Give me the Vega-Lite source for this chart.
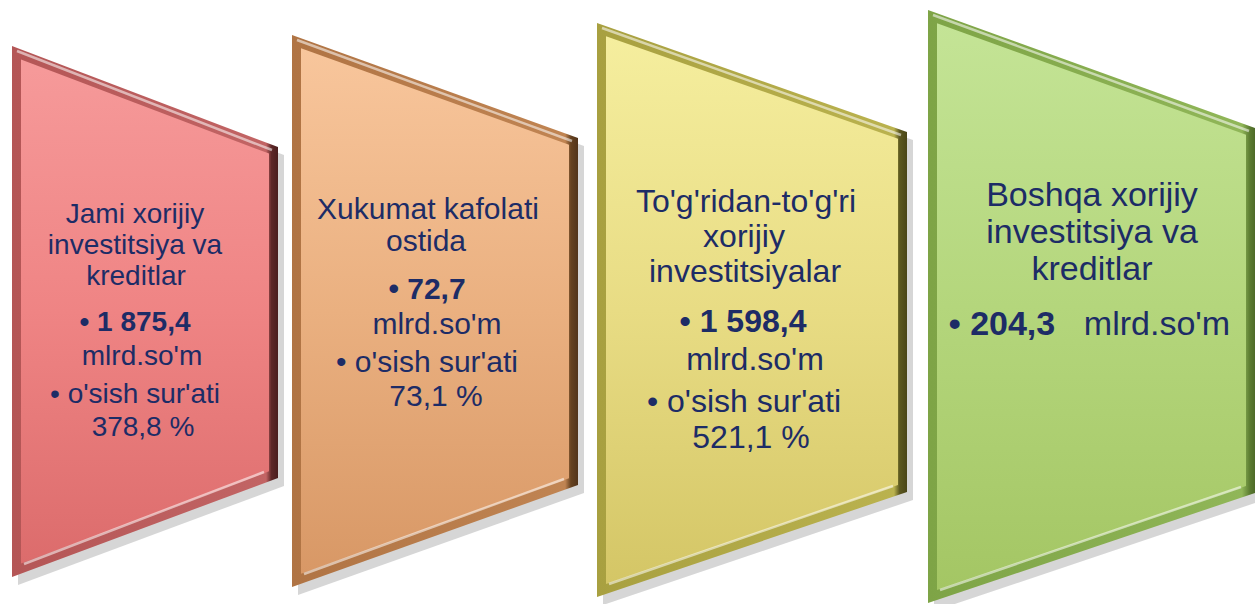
{
  "$schema": "https://vega.github.io/schema/vega-lite/v6.json",
  "width": 1255,
  "height": 604,
  "autosize": {"type": "fit", "contains": "padding"},
  "padding": 0,
  "background": "white",
  "config": {"view": {"stroke": null}},
  "datasets": {
    "outer": [
      {"p": 1, "x": 12, "t": 46, "b": 577}, {"p": 1, "x": 278, "t": 147, "b": 478},
      {"p": 2, "x": 292, "t": 35, "b": 587}, {"p": 2, "x": 578, "t": 138, "b": 485},
      {"p": 3, "x": 597, "t": 23, "b": 597}, {"p": 3, "x": 907, "t": 132, "b": 492},
      {"p": 4, "x": 928, "t": 10, "b": 603}, {"p": 4, "x": 1255, "t": 128, "b": 493}
    ],
    "inner": [
      {"p": 1, "x": 21, "t": 59.5, "b": 563.6}, {"p": 1, "x": 269, "t": 153.6, "b": 471.3},
      {"p": 2, "x": 301, "t": 48.2, "b": 573.8}, {"p": 2, "x": 569, "t": 144.8, "b": 478.2},
      {"p": 3, "x": 606, "t": 36.2, "b": 584}, {"p": 3, "x": 898, "t": 138.8, "b": 485},
      {"p": 4, "x": 937, "t": 23.2, "b": 590}, {"p": 4, "x": 1246, "t": 134.8, "b": 486}
    ],
    "hl": [
      {"s": "1t", "x": 17, "y": 51}, {"s": "1t", "x": 272, "y": 150},
      {"s": "1b", "x": 24, "y": 564}, {"s": "1b", "x": 264, "y": 472},
      {"s": "2t", "x": 297, "y": 40}, {"s": "2t", "x": 572, "y": 141},
      {"s": "2b", "x": 304, "y": 574}, {"s": "2b", "x": 564, "y": 479},
      {"s": "3t", "x": 602, "y": 28}, {"s": "3t", "x": 901, "y": 135},
      {"s": "3b", "x": 609, "y": 584}, {"s": "3b", "x": 893, "y": 486},
      {"s": "4t", "x": 933, "y": 15}, {"s": "4t", "x": 1249, "y": 131},
      {"s": "4b", "x": 940, "y": 590}, {"s": "4b", "x": 1241, "y": 487}
    ],
    "txt": [
      {"p": "1", "t": "Jami xorijiy", "x": 135, "y": 215, "bold": 0},
      {"p": "1", "t": "investitsiya va", "x": 135, "y": 246, "bold": 0},
      {"p": "1", "t": "kreditlar", "x": 136, "y": 277, "bold": 0},
      {"p": "1", "t": "• 1 875,4", "x": 135, "y": 323, "bold": 1},
      {"p": "1", "t": "mlrd.so'm", "x": 142, "y": 357, "bold": 0},
      {"p": "1", "t": "• o'sish sur'ati", "x": 135, "y": 395, "bold": 0},
      {"p": "1", "t": "378,8 %", "x": 143, "y": 428, "bold": 0},
      {"p": "2", "t": "Xukumat kafolati", "x": 428, "y": 210, "bold": 0},
      {"p": "2", "t": "ostida", "x": 426, "y": 242, "bold": 0},
      {"p": "2", "t": "• 72,7", "x": 427, "y": 290, "bold": 1},
      {"p": "2", "t": "mlrd.so'm", "x": 437, "y": 325, "bold": 0},
      {"p": "2", "t": "• o'sish sur'ati", "x": 427, "y": 363, "bold": 0},
      {"p": "2", "t": "73,1 %", "x": 436, "y": 397, "bold": 0},
      {"p": "3", "t": "To'g'ridan-to'g'ri", "x": 746, "y": 202, "bold": 0},
      {"p": "3", "t": "xorijiy", "x": 744, "y": 237, "bold": 0},
      {"p": "3", "t": "investitsiyalar", "x": 745, "y": 272, "bold": 0},
      {"p": "3", "t": "• 1 598,4", "x": 743, "y": 322, "bold": 1},
      {"p": "3", "t": "mlrd.so'm", "x": 755, "y": 360, "bold": 0},
      {"p": "3", "t": "• o'sish sur'ati", "x": 744, "y": 402, "bold": 0},
      {"p": "3", "t": "521,1 %", "x": 751, "y": 438, "bold": 0},
      {"p": "4", "t": "Boshqa xorijiy", "x": 1092, "y": 196, "bold": 0},
      {"p": "4", "t": "investitsiya va", "x": 1092, "y": 233, "bold": 0},
      {"p": "4", "t": "kreditlar", "x": 1092, "y": 270, "bold": 0},
      {"p": "4", "t": "• 204,3", "x": 1002, "y": 325, "bold": 1},
      {"p": "4", "t": "mlrd.so'm", "x": 1157, "y": 325, "bold": 0}
    ]
  },
  "layer": [
    {
      "data": {"name": "outer"},
      "mark": {"type": "area", "color": "#8a8a8a", "opacity": 0.35, "xOffset": 6, "yOffset": 8, "y2Offset": 8, "clip": true},
      "encoding": {
        "x": {"field": "x", "type": "quantitative", "scale": {"domain": [0, 1255], "nice": false, "zero": false}, "axis": null},
        "y": {"field": "t", "type": "quantitative", "scale": {"domain": [0, 604], "nice": false, "zero": false, "reverse": true}, "axis": null},
        "y2": {"field": "b"},
        "detail": {"field": "p"}
      }
    },
    {
      "data": {"name": "outer"},
      "transform": [{"filter": "datum.p == 1"}],
      "mark": {"type": "area", "clip": true, "color": {"gradient": "linear", "x1": 0, "y1": 0, "x2": 1, "y2": 0, "stops": [{"offset": 0, "color": "#b45656"}, {"offset": 0.955, "color": "#c26464"}, {"offset": 0.975, "color": "#5e2828"}, {"offset": 1, "color": "#4a1e1e"}]}},
      "encoding": {"x": {"field": "x", "type": "quantitative"}, "y": {"field": "t", "type": "quantitative"}, "y2": {"field": "b"}}
    },
    {
      "data": {"name": "outer"},
      "transform": [{"filter": "datum.p == 2"}],
      "mark": {"type": "area", "clip": true, "color": {"gradient": "linear", "x1": 0, "y1": 0, "x2": 1, "y2": 0, "stops": [{"offset": 0, "color": "#b07444"}, {"offset": 0.955, "color": "#c08452"}, {"offset": 0.975, "color": "#664220"}, {"offset": 1, "color": "#52341a"}]}},
      "encoding": {"x": {"field": "x", "type": "quantitative"}, "y": {"field": "t", "type": "quantitative"}, "y2": {"field": "b"}}
    },
    {
      "data": {"name": "outer"},
      "transform": [{"filter": "datum.p == 3"}],
      "mark": {"type": "area", "clip": true, "color": {"gradient": "linear", "x1": 0, "y1": 0, "x2": 1, "y2": 0, "stops": [{"offset": 0, "color": "#a8a040"}, {"offset": 0.958, "color": "#bab24e"}, {"offset": 0.976, "color": "#5c5820"}, {"offset": 1, "color": "#4a4618"}]}},
      "encoding": {"x": {"field": "x", "type": "quantitative"}, "y": {"field": "t", "type": "quantitative"}, "y2": {"field": "b"}}
    },
    {
      "data": {"name": "outer"},
      "transform": [{"filter": "datum.p == 4"}],
      "mark": {"type": "area", "clip": true, "color": {"gradient": "linear", "x1": 0, "y1": 0, "x2": 1, "y2": 0, "stops": [{"offset": 0, "color": "#7ea446"}, {"offset": 0.96, "color": "#90b658"}, {"offset": 0.985, "color": "#5a7a30"}, {"offset": 1, "color": "#4e6a28"}]}},
      "encoding": {"x": {"field": "x", "type": "quantitative"}, "y": {"field": "t", "type": "quantitative"}, "y2": {"field": "b"}}
    },
    {
      "data": {"name": "inner"},
      "transform": [{"filter": "datum.p == 1"}],
      "mark": {"type": "area", "clip": true, "color": {"gradient": "linear", "x1": 0, "y1": 0, "x2": 0, "y2": 1, "stops": [{"offset": 0, "color": "#f69a9a"}, {"offset": 0.5, "color": "#ef8484"}, {"offset": 1, "color": "#dc6c6c"}]}},
      "encoding": {"x": {"field": "x", "type": "quantitative"}, "y": {"field": "t", "type": "quantitative"}, "y2": {"field": "b"}}
    },
    {
      "data": {"name": "inner"},
      "transform": [{"filter": "datum.p == 2"}],
      "mark": {"type": "area", "clip": true, "color": {"gradient": "linear", "x1": 0, "y1": 0, "x2": 0, "y2": 1, "stops": [{"offset": 0, "color": "#f8c69c"}, {"offset": 0.5, "color": "#eab080"}, {"offset": 1, "color": "#d89866"}]}},
      "encoding": {"x": {"field": "x", "type": "quantitative"}, "y": {"field": "t", "type": "quantitative"}, "y2": {"field": "b"}}
    },
    {
      "data": {"name": "inner"},
      "transform": [{"filter": "datum.p == 3"}],
      "mark": {"type": "area", "clip": true, "color": {"gradient": "linear", "x1": 0, "y1": 0, "x2": 0, "y2": 1, "stops": [{"offset": 0, "color": "#f5ee9e"}, {"offset": 0.5, "color": "#e8dc84"}, {"offset": 1, "color": "#d4c666"}]}},
      "encoding": {"x": {"field": "x", "type": "quantitative"}, "y": {"field": "t", "type": "quantitative"}, "y2": {"field": "b"}}
    },
    {
      "data": {"name": "inner"},
      "transform": [{"filter": "datum.p == 4"}],
      "mark": {"type": "area", "clip": true, "color": {"gradient": "linear", "x1": 0, "y1": 0, "x2": 0, "y2": 1, "stops": [{"offset": 0, "color": "#c4e496"}, {"offset": 0.5, "color": "#b4d67c"}, {"offset": 1, "color": "#a4c664"}]}},
      "encoding": {"x": {"field": "x", "type": "quantitative"}, "y": {"field": "t", "type": "quantitative"}, "y2": {"field": "b"}}
    },
    {
      "data": {"name": "hl"},
      "mark": {"type": "line", "color": "white", "opacity": 0.55, "strokeWidth": 2.5, "clip": true},
      "encoding": {
        "x": {"field": "x", "type": "quantitative"},
        "y": {"field": "y", "type": "quantitative"},
        "detail": {"field": "s"}
      }
    },
    {
      "data": {"name": "txt"},
      "transform": [{"filter": "datum.bold == 0"}],
      "mark": {"type": "text", "font": "Liberation Sans", "color": "#1d2c66", "align": "center", "baseline": "middle"},
      "encoding": {
        "x": {"field": "x", "type": "quantitative"},
        "y": {"field": "y", "type": "quantitative"},
        "text": {"field": "t"},
        "size": {"field": "p", "type": "nominal", "scale": {"type": "ordinal", "domain": ["1", "2", "3", "4"], "range": [28, 30, 32, 34]}, "legend": null}
      }
    },
    {
      "data": {"name": "txt"},
      "transform": [{"filter": "datum.bold == 1"}],
      "mark": {"type": "text", "font": "Liberation Sans", "fontWeight": "bold", "color": "#1d2c66", "align": "center", "baseline": "middle"},
      "encoding": {
        "x": {"field": "x", "type": "quantitative"},
        "y": {"field": "y", "type": "quantitative"},
        "text": {"field": "t"},
        "size": {"field": "p", "type": "nominal", "scale": {"type": "ordinal", "domain": ["1", "2", "3", "4"], "range": [28, 30, 32, 34]}, "legend": null}
      }
    }
  ]
}
